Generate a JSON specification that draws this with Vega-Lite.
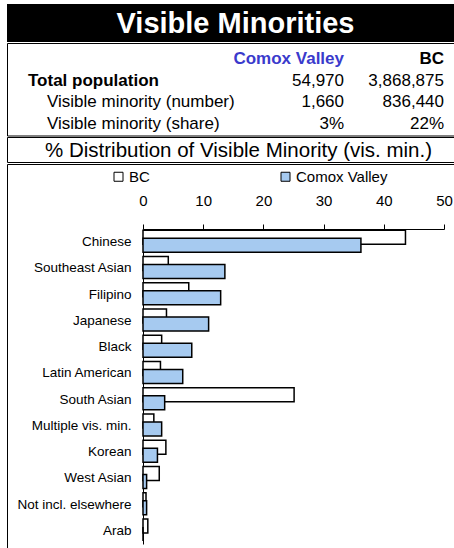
{
  "$schema": "https://vega.github.io/schema/vega-lite/v6.json",
  "padding": {"left": 6, "top": 4, "right": 0, "bottom": 0},
  "spacing": 0,
  "config": {
    "font": "Liberation Sans",
    "view": {"stroke": null},
    "text": {"font": "Liberation Sans", "color": "black"}
  },
  "vconcat": [
    {
      "width": 449,
      "height": 38,
      "view": {"fill": "black", "stroke": null},
      "data": {"values": [{"title": "Visible Minorities"}]},
      "mark": {"type": "text", "fontSize": 29, "fontWeight": "bold", "color": "white", "dx": 4, "dy": 1},
      "encoding": {"text": {"field": "title"}}
    },
    {
      "width": 449,
      "height": 92.5,
      "view": {"stroke": "black", "strokeWidth": 1},
      "data": {
        "values": [
          {"row": "header", "col": "Comox Valley", "text": "Comox Valley"},
          {"row": "header", "col": "BC", "text": "BC"},
          {"row": "Total population", "col": "label", "text": "Total population"},
          {"row": "Total population", "col": "Comox Valley", "text": "54,970"},
          {"row": "Total population", "col": "BC", "text": "3,868,875"},
          {"row": "Visible minority (number)", "col": "label", "text": "Visible minority (number)"},
          {"row": "Visible minority (number)", "col": "Comox Valley", "text": "1,660"},
          {"row": "Visible minority (number)", "col": "BC", "text": "836,440"},
          {"row": "Visible minority (share)", "col": "label", "text": "Visible minority (share)"},
          {"row": "Visible minority (share)", "col": "Comox Valley", "text": "3%"},
          {"row": "Visible minority (share)", "col": "BC", "text": "22%"}
        ]
      },
      "encoding": {
        "x": {"field": "col", "type": "nominal", "axis": null,
              "scale": {"type": "point", "domain": ["label", "gap1", "gap2", "Comox Valley", "BC"], "range": [37, 437], "padding": 0}},
        "y": {"field": "row", "type": "nominal", "axis": null,
              "scale": {"type": "point", "domain": ["header", "Total population", "Visible minority (number)", "Visible minority (share)"], "range": [16, 81], "padding": 0}},
        "text": {"field": "text"}
      },
      "layer": [
        {
          "transform": [{"filter": "datum.row === 'header'"}],
          "mark": {"type": "text", "fontSize": 17, "fontWeight": "bold", "align": "right"},
          "encoding": {
            "color": {"condition": {"test": "datum.col === 'Comox Valley'", "value": "#3a3acc"}, "value": "black"}
          }
        },
        {
          "transform": [{"filter": "datum.row === 'Total population' && datum.col === 'label'"}],
          "mark": {"type": "text", "fontSize": 17, "fontWeight": "bold", "align": "left", "dx": -16}
        },
        {
          "transform": [{"filter": "datum.row !== 'Total population' && datum.row !== 'header' && datum.col === 'label'"}],
          "mark": {"type": "text", "fontSize": 17, "align": "left", "dx": 3}
        },
        {
          "transform": [{"filter": "datum.row !== 'header' && datum.col !== 'label'"}],
          "mark": {"type": "text", "fontSize": 17, "align": "right"}
        }
      ]
    },
    {
      "width": 449,
      "height": 25,
      "view": {"stroke": "black", "strokeWidth": 1},
      "data": {"values": [{"subtitle": "% Distribution of Visible Minority (vis. min.)"}]},
      "mark": {"type": "text", "fontSize": 20.5, "dx": 7, "dy": 1},
      "encoding": {"text": {"field": "subtitle"}}
    },
    {
      "width": 449,
      "height": 384,
      "view": {"stroke": "black", "strokeWidth": 1},
      "data": {
        "values": [
          {"category": "Chinese", "series": "BC", "value": 43.6},
          {"category": "Chinese", "series": "Comox Valley", "value": 36.2},
          {"category": "Southeast Asian", "series": "BC", "value": 4.2},
          {"category": "Southeast Asian", "series": "Comox Valley", "value": 13.6},
          {"category": "Filipino", "series": "BC", "value": 7.6},
          {"category": "Filipino", "series": "Comox Valley", "value": 12.9},
          {"category": "Japanese", "series": "BC", "value": 3.9},
          {"category": "Japanese", "series": "Comox Valley", "value": 10.9},
          {"category": "Black", "series": "BC", "value": 3.1},
          {"category": "Black", "series": "Comox Valley", "value": 8.1},
          {"category": "Latin American", "series": "BC", "value": 2.9},
          {"category": "Latin American", "series": "Comox Valley", "value": 6.6},
          {"category": "South Asian", "series": "BC", "value": 25.1},
          {"category": "South Asian", "series": "Comox Valley", "value": 3.6},
          {"category": "Multiple vis. min.", "series": "BC", "value": 1.8},
          {"category": "Multiple vis. min.", "series": "Comox Valley", "value": 3.1},
          {"category": "Korean", "series": "BC", "value": 3.8},
          {"category": "Korean", "series": "Comox Valley", "value": 2.4},
          {"category": "West Asian", "series": "BC", "value": 2.7},
          {"category": "West Asian", "series": "Comox Valley", "value": 0.6},
          {"category": "Not incl. elsewhere", "series": "BC", "value": 0.5},
          {"category": "Not incl. elsewhere", "series": "Comox Valley", "value": 0.6},
          {"category": "Arab", "series": "BC", "value": 0.8},
          {"category": "Arab", "series": "Comox Valley", "value": 0.0}
        ]
      },
      "encoding": {
        "x": {"field": "value", "type": "quantitative",
              "scale": {"domain": [0, 50], "range": [136, 437], "nice": false, "zero": true},
              "axis": {"orient": "top", "offset": -65, "values": [0, 10, 20, 30, 40, 50], "title": null, "grid": false,
                       "tickSize": 5, "tickColor": "black", "domainColor": "black", "labelColor": "black",
                       "labelFontSize": 15, "labelFont": "Liberation Sans", "labelPadding": 16, "labelFlush": false}},
        "y": {"field": "category", "type": "nominal",
              "scale": {"type": "band", "domain": ["Chinese", "Southeast Asian", "Filipino", "Japanese", "Black", "Latin American", "South Asian", "Multiple vis. min.", "Korean", "West Asian", "Not incl. elsewhere", "Arab"], "range": [65, 380], "paddingInner": 0, "paddingOuter": 0},
              "axis": {"orient": "left", "offset": -136, "title": null, "ticks": false, "tickSize": 0, "domainColor": "black",
                       "labelColor": "black", "labelFontSize": 13.5, "labelFont": "Liberation Sans", "labelPadding": 12, "labelLimit": 200}},
        "fill": {"field": "series", "type": "nominal",
                 "scale": {"domain": ["BC", "Comox Valley"], "range": ["white", "#a6caf0"]},
                 "legend": {"orient": "none", "legendX": 104, "legendY": 165, "direction": "horizontal", "title": null,
                            "symbolType": "square", "symbolSize": 81, "symbolStrokeColor": "black", "symbolStrokeWidth": 1,
                            "labelFontSize": 15, "labelFont": "Liberation Sans", "labelColor": "black",
                            "columnPadding": 128, "labelOffset": 3}}
      },
      "layer": [
        {
          "transform": [{"filter": "datum.series === 'BC'"}],
          "mark": {"type": "bar", "height": 14, "yOffset": -5, "stroke": "black", "strokeWidth": 1.5}
        },
        {
          "transform": [{"filter": "datum.series === 'Comox Valley'"}],
          "mark": {"type": "bar", "height": 14, "yOffset": 3, "stroke": "black", "strokeWidth": 1.5}
        }
      ]
    }
  ]
}
